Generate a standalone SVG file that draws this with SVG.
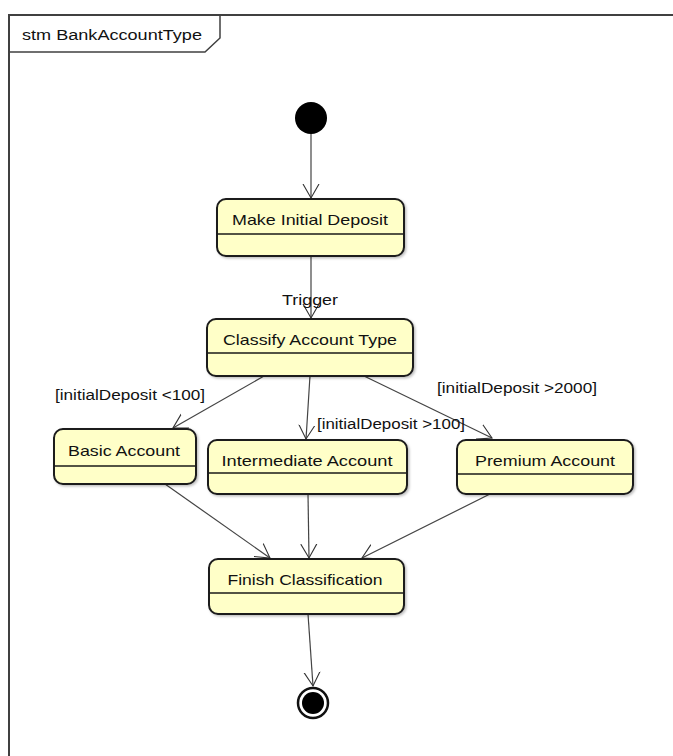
<svg xmlns="http://www.w3.org/2000/svg" width="673" height="756" viewBox="0 0 673 756">
<defs>
<marker id="open" markerWidth="16" markerHeight="18" refX="14" refY="8" orient="auto" markerUnits="userSpaceOnUse" viewBox="0 0 16 16">
<path d="M0,0 L14,8 L0,16" fill="none" stroke="#333" stroke-width="1.1"/>
</marker>
<filter id="sh" x="-10%" y="-10%" width="130%" height="130%">
<feDropShadow dx="1.5" dy="1.5" stdDeviation="1" flood-color="#000" flood-opacity="0.25"/>
</filter>
</defs>
<style>
.box{fill:#FFFFC8;stroke:#1a1a1a;stroke-width:2;filter:url(#sh)}
.div{stroke:#1a1a1a;stroke-width:1.5}
.t{font-family:"Liberation Sans",Arial,sans-serif;font-size:15px;fill:#111;text-anchor:middle}
.lbl{font-family:"Liberation Sans",Arial,sans-serif;font-size:14px;fill:#111}
.c{fill:none;stroke:#444;stroke-width:1.2;marker-end:url(#open)}
</style>
<rect width="673" height="756" fill="#fff"/>
<g id="frame">
<path d="M9,760 L9,15 L680,15" fill="none" stroke="#404040" stroke-width="2"/>
<path d="M9,52 L205,52 L220,38 L220,15" fill="none" stroke="#404040" stroke-width="1.5"/>
<text class="lbl" x="22" y="40" textLength="180" lengthAdjust="spacingAndGlyphs">stm BankAccountType</text>
</g>
<g id="connectors">
<line class="c" x1="311" y1="134" x2="311" y2="198"/>
<line class="c" x1="311" y1="256" x2="311" y2="318"/>
<line class="c" x1="264" y1="376" x2="173" y2="428"/>
<line class="c" x1="310" y1="376" x2="306" y2="439"/>
<line class="c" x1="364" y1="376" x2="492" y2="438"/>
<line class="c" x1="165" y1="484" x2="270" y2="558"/>
<line class="c" x1="308" y1="494" x2="309" y2="558"/>
<line class="c" x1="490" y1="494" x2="362" y2="558"/>
<line class="c" x1="308" y1="614" x2="313" y2="686"/>
<text class="lbl" x="282" y="305" textLength="56" lengthAdjust="spacingAndGlyphs">Trigger</text>
<text class="lbl" x="55" y="400" textLength="150" lengthAdjust="spacingAndGlyphs">[initialDeposit &lt;100]</text>
<text class="lbl" x="437" y="393" textLength="160" lengthAdjust="spacingAndGlyphs">[initialDeposit &gt;2000]</text>
<text class="lbl" x="317" y="429" textLength="148" lengthAdjust="spacingAndGlyphs">[initialDeposit &gt;100]</text>
</g>
<g id="initial">
<circle cx="311" cy="118" r="16" fill="#000"/>
</g>
<g id="makeInitialDeposit">
<rect class="box" x="217" y="199" width="187" height="57" rx="9"/>
<line class="div" x1="217" y1="234" x2="404" y2="234"/>
<text class="t" x="310" y="225" textLength="156" lengthAdjust="spacingAndGlyphs">Make Initial Deposit</text>
</g>
<g id="classifyAccountType">
<rect class="box" x="207" y="319" width="206" height="57" rx="9"/>
<line class="div" x1="207" y1="353" x2="413" y2="353"/>
<text class="t" x="310" y="345" textLength="174" lengthAdjust="spacingAndGlyphs">Classify Account Type</text>
</g>
<g id="basicAccount">
<rect class="box" x="54" y="429" width="142" height="55" rx="9"/>
<line class="div" x1="54" y1="466" x2="196" y2="466"/>
<text class="t" x="124" y="456" textLength="112" lengthAdjust="spacingAndGlyphs">Basic Account</text>
</g>
<g id="intermediateAccount">
<rect class="box" x="208" y="440" width="199" height="54" rx="9"/>
<line class="div" x1="208" y1="473" x2="407" y2="473"/>
<text class="t" x="307" y="466" textLength="171" lengthAdjust="spacingAndGlyphs">Intermediate Account</text>
</g>
<g id="premiumAccount">
<rect class="box" x="457" y="440" width="176" height="54" rx="9"/>
<line class="div" x1="457" y1="474" x2="633" y2="474"/>
<text class="t" x="545" y="466" textLength="140" lengthAdjust="spacingAndGlyphs">Premium Account</text>
</g>
<g id="finishClassification">
<rect class="box" x="209" y="559" width="195" height="55" rx="9"/>
<line class="div" x1="209" y1="593" x2="404" y2="593"/>
<text class="t" x="305" y="585" textLength="155" lengthAdjust="spacingAndGlyphs">Finish Classification</text>
</g>
<g id="final">
<circle cx="313" cy="703" r="15" fill="#fff" stroke="#111" stroke-width="2.5"/>
<circle cx="313" cy="703" r="11" fill="#000"/>
</g>
</svg>
